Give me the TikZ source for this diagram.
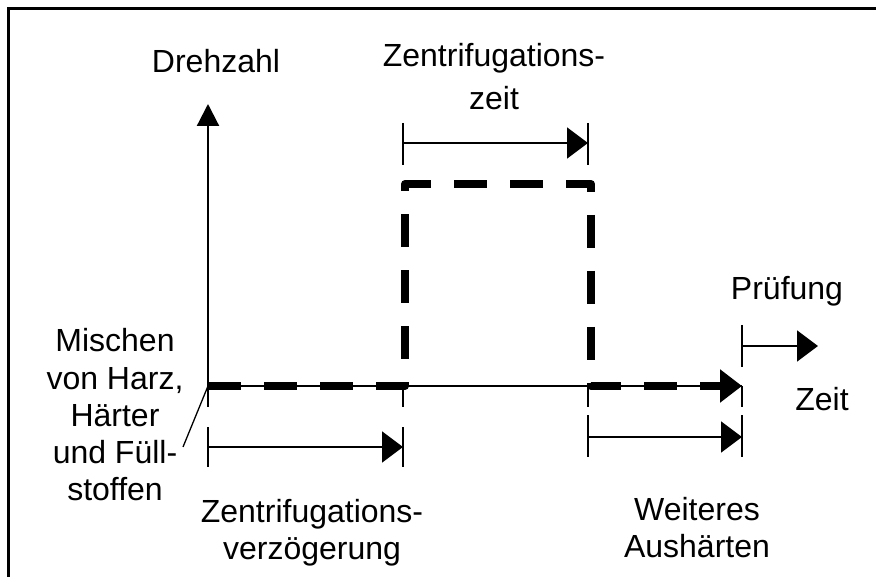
\documentclass[tikz,border=0pt]{standalone}
\usepackage{fontspec}
\setmainfont{Liberation Sans}
\usetikzlibrary{arrows.meta}
\begin{document}
\begin{tikzpicture}[x=1pt,y=-1pt,
  lbl/.style={font=\fontsize{32}{38}\selectfont, inner sep=0pt, anchor=base},
  axisline/.style={line width=2.2pt},
  tickline/.style={line width=2pt},
  dimarrow/.style={line width=2pt,-{Triangle[length=21pt,width=31pt]}},
  yarrow/.style={line width=2.2pt,-{Triangle[length=22pt,width=22pt]}},
  thickdash/.style={line width=8pt, dash pattern=on 33pt off 23pt, line join=round, -{Triangle[length=22pt,width=32pt]}},
  leader/.style={line width=1.3pt}
]
\useasboundingbox (0,0) rectangle (876,577);
% frame
\coordinate (fbl) at (8.5,577);
\coordinate (ftl) at (8.5,8.5);
\coordinate (ftr) at (876,8.5);
\draw[line width=2.7pt] (fbl) -- (ftl) -- (ftr);

% key points
\coordinate (O) at (208,386);
\coordinate (ytop) at (208,104);
\coordinate (ybot) at (208,407);
\coordinate (xend) at (742,386);
\coordinate (c1) at (405,386);
\coordinate (c2) at (405,184);
\coordinate (c3) at (591,184);
\coordinate (c4) at (591,386);

% axes
\draw[axisline] (O) -- (xend);
\draw[yarrow] (ybot) -- (ytop);

% thick dashed speed profile
\draw[thickdash] (O) -- (c1) -- (c2) -- (c3) -- (c4) -- (xend);

% small ticks below the axis
\coordinate (t1a) at (403,386); \coordinate (t1b) at (403,407);
\coordinate (t2a) at (588,386); \coordinate (t2b) at (588,407);
\coordinate (t3a) at (742,386); \coordinate (t3b) at (742,407);
\draw[tickline] (t1a) -- (t1b);
\draw[tickline] (t2a) -- (t2b);
\draw[tickline] (t3a) -- (t3b);

% bottom-left dimension (Zentrifugationsverzoegerung)
\coordinate (bl1a) at (208,427); \coordinate (bl1b) at (208,467);
\coordinate (bl2a) at (403,427); \coordinate (bl2b) at (403,467);
\coordinate (bls) at (208,447); \coordinate (ble) at (403,447);
\draw[tickline] (bl1a) -- (bl1b);
\draw[tickline] (bl2a) -- (bl2b);
\draw[dimarrow] (bls) -- (ble);

% top dimension (Zentrifugationszeit)
\coordinate (tp1a) at (403,123); \coordinate (tp1b) at (403,165);
\coordinate (tp2a) at (588,123); \coordinate (tp2b) at (588,165);
\coordinate (tps) at (403,143); \coordinate (tpe) at (588,143);
\draw[tickline] (tp1a) -- (tp1b);
\draw[tickline] (tp2a) -- (tp2b);
\draw[dimarrow] (tps) -- (tpe);

% bottom-right dimension (Weiteres Aushaerten)
\coordinate (br1a) at (588,415); \coordinate (br1b) at (588,457);
\coordinate (br2a) at (742,415); \coordinate (br2b) at (742,457);
\coordinate (brs) at (588,437); \coordinate (bre) at (742,437);
\draw[tickline] (br1a) -- (br1b);
\draw[tickline] (br2a) -- (br2b);
\draw[dimarrow] (brs) -- (bre);

% Pruefung arrow
\coordinate (pa) at (742,325); \coordinate (pb) at (742,367);
\coordinate (ps) at (742,346); \coordinate (pe) at (818,346);
\draw[tickline] (pa) -- (pb);
\draw[dimarrow] (ps) -- (pe);

% leader line
\coordinate (lead) at (183,447);
\draw[leader] (O) -- (lead);

% labels
\node[lbl] (drehzahl) at (216,73) {Drehzahl};
\node[lbl] (zz1) at (494,67) {Zentrifugations-};
\node[lbl] (zz2) at (494,110) {zeit};
\node[lbl] (pruef) at (787,300) {Prüfung};
\node[lbl] (zeit) at (822,410) {Zeit};
\node[lbl] (m1) at (115,352) {Mischen};
\node[lbl] (m2) at (115,389) {von Harz,};
\node[lbl] (m3) at (115,426) {Härter};
\node[lbl] (m4) at (115,463) {und Füll-};
\node[lbl] (m5) at (115,500) {stoffen};
\node[lbl] (zv1) at (312,522) {Zentrifugations-};
\node[lbl] (zv2) at (312,559) {verzögerung};
\node[lbl] (wa1) at (697,520) {Weiteres};
\node[lbl] (wa2) at (697,557) {Aushärten};
\end{tikzpicture}
\end{document}
